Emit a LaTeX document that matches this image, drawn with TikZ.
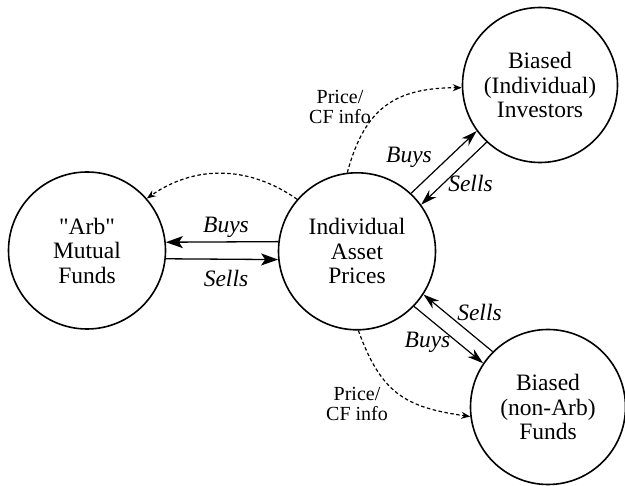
\documentclass[tikz,border=0pt]{standalone}
\usepackage{fontspec}
\setmainfont{Liberation Serif}[Ligatures=TeXOff]
\usetikzlibrary{arrows.meta}
\begin{document}
\begin{tikzpicture}[x=1pt,y=1pt,
  agent/.style={circle, draw, line width=1.6pt, minimum size=#1, inner sep=0pt,
    align=center, font=\fontsize{23.5}{24.5}\selectfont},
  flowh/.style={line width=1.3pt, -{Stealth[length=17pt,width=12pt,inset=4pt]}},
  flowd/.style={line width=1.2pt, -{Stealth[length=16pt,width=10pt,inset=5pt]}},
  info/.style={line width=1.2pt, dash pattern=on 3.5pt off 2.5pt,
    -{Stealth[length=9pt,width=7pt,inset=3pt]}, looseness=1.2},
  tlabel/.style={font=\fontsize{23.5}{24.5}\selectfont\itshape, inner sep=0pt},
  ilabel/.style={font=\fontsize{20}{20}\selectfont, align=center, inner sep=0pt}]

% canvas
\useasboundingbox (0,0) rectangle (625,-486);

% market participants and prices
\node[agent=157pt] (arb) at (87,-250.5) {"Arb"\\Mutual\\Funds};
\node[agent=157pt] (ip)  at (357,-251.3) {Individual\\Asset\\Prices};
\node[agent=155pt] (bii) at (540,-85) {Biased\\(Individual)\\Investors};
\node[agent=155pt] (bnf) at (548,-407) {Biased\\(non-Arb)\\Funds};

% trades with the arbitrage funds
\draw[flowh] (ip.173.8) -- (arb.6.2);
\draw[flowh] (arb.-6.2) -- (ip.186.2);
\node[tlabel] (lb1) at (226,-227) {Buys};
\node[tlabel] (ls1) at (226,-278) {Sells};

% trades with individual investors
\draw[flowd] (ip.47.7) -- (bii.216.7);
\draw[flowd] (bii.227.8) -- (ip.36.8);
\node[tlabel] (lb2) at (409,-157) {Buys};
\node[tlabel] (ls2) at (470.5,-183.5) {Sells};

% trades with non-arbitrage funds
\draw[flowd] (bnf.135.3) -- (ip.-33.7);
\draw[flowd] (ip.-44.7) -- (bnf.146.4);
\node[tlabel] (ls3) at (479.5,-312.5) {Sells};
\node[tlabel] (lb3) at (427.5,-342) {Buys};

% information flows
\draw[info] (ip.97) to[out=75,in=180] (bii.182);
\draw[info] (ip.139) to[out=145,in=35,looseness=1] (arb.41);
\draw[info] (ip.-89) to[out=-70,in=172] (bnf.187);
\node[ilabel] (pi1) at (340,-107) {Price/\\CF info};
\node[ilabel] (pi2) at (357,-404) {Price/\\CF info};
\end{tikzpicture}
\end{document}
